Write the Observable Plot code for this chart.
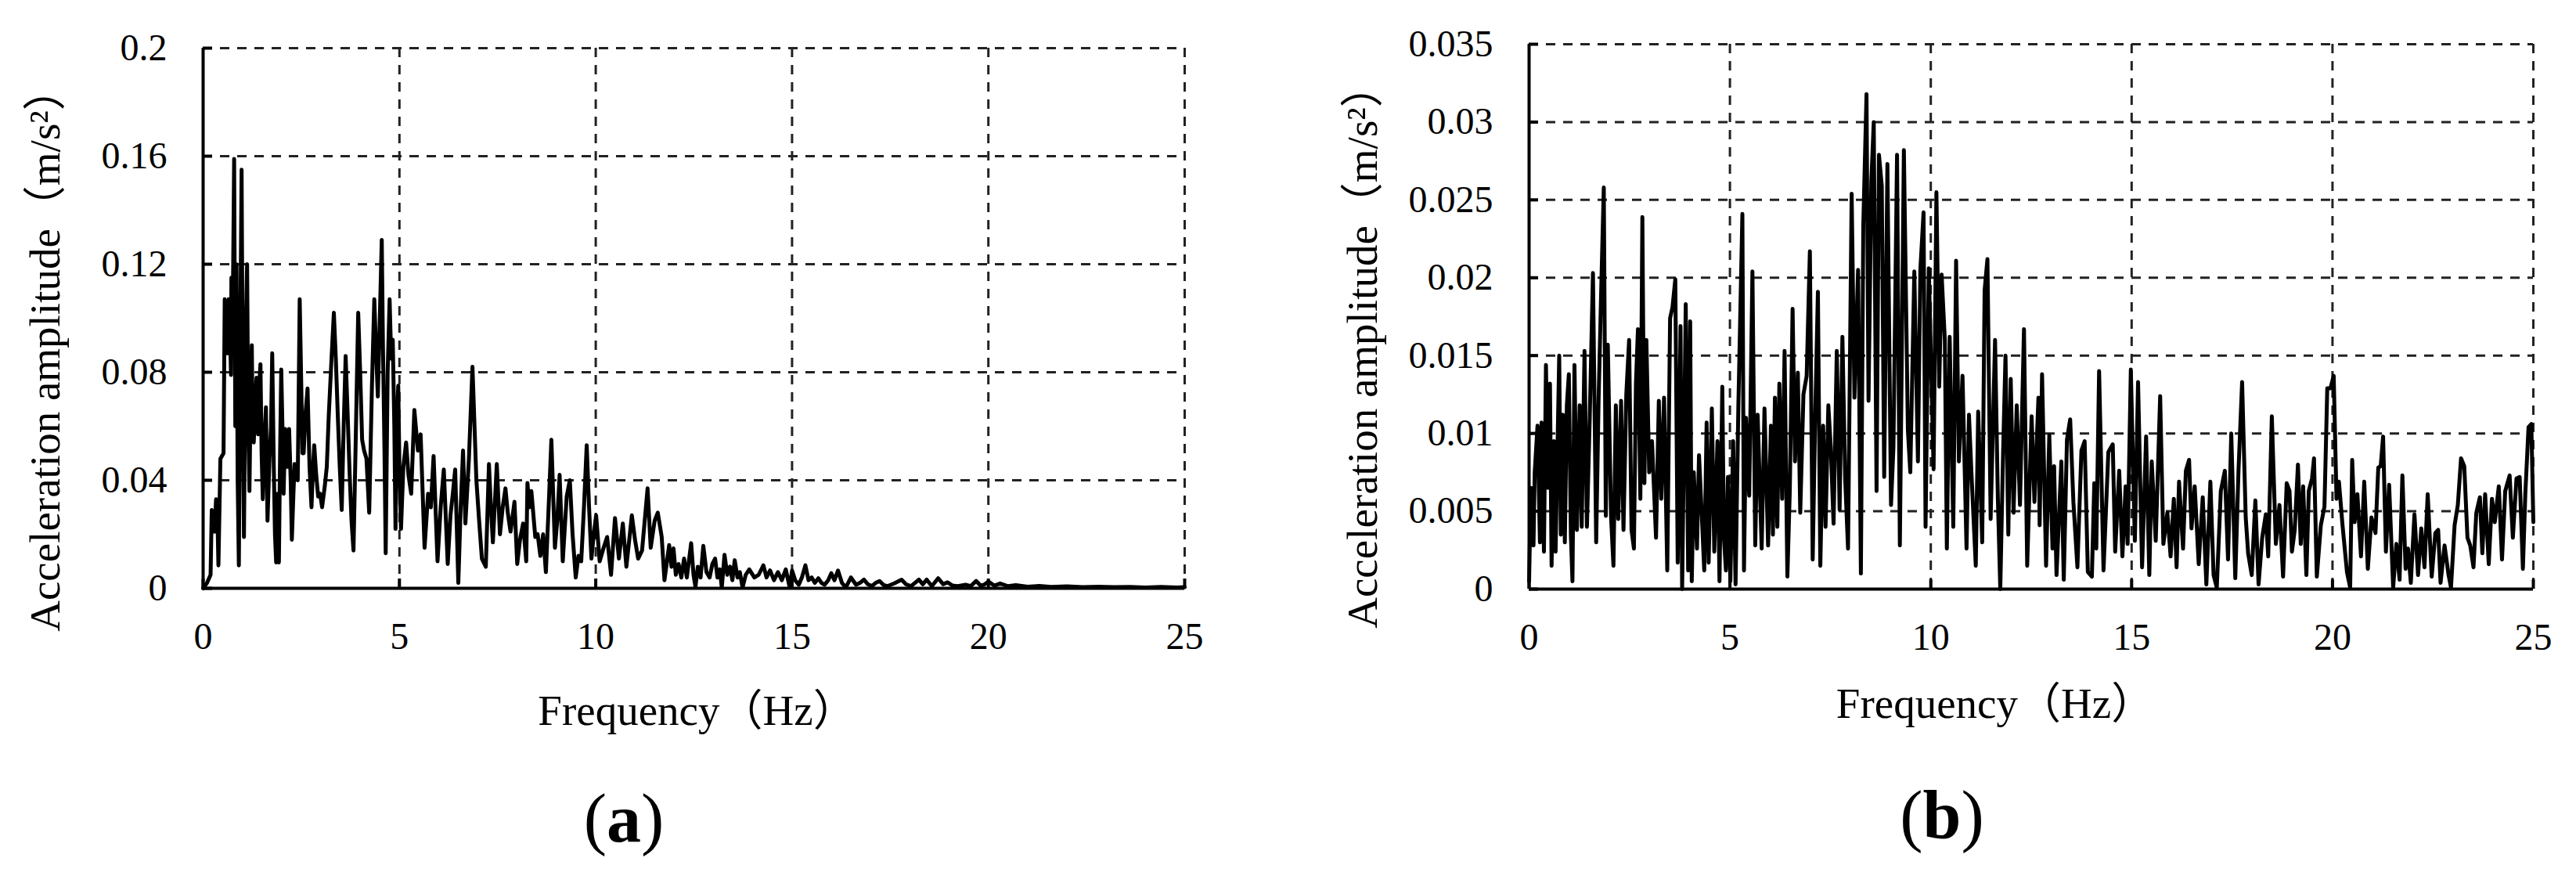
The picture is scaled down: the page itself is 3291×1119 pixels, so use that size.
<!DOCTYPE html>
<html>
<head>
<meta charset="utf-8">
<script src="https://cdn.jsdelivr.net/npm/d3@7"></script>
<script src="https://cdn.jsdelivr.net/npm/@observablehq/plot@0.6"></script>
<style>
  html, body { margin: 0; padding: 0; background: #fff; }
  #wrap { position: relative; width: 3291px; height: 1119px; background: #fff; overflow: hidden; }
  .panel { position: absolute; top: 0; }
  .cap { position: absolute; width: 300px; text-align: center; font-family: "Liberation Serif", "Times New Roman", serif; font-size: 88px; line-height: 88px; color: #000; }
  .cap b { font-weight: bold; }
</style>
</head>
<body>
<div id="wrap">
  <div id="pa" class="panel" style="left:0px"></div>
  <div id="pb" class="panel" style="left:1645px"></div>
  <div class="cap" style="left:647px; top:1002px">(<b>a</b>)</div>
  <div class="cap" style="left:2331px; top:998px">(<b>b</b>)</div>
</div>
<script>
// ---------------- data ----------------
const xTicks = [0, 5, 10, 15, 20, 25];
const yTicksA = [0, 0.04, 0.08, 0.12, 0.16, 0.2];
const yTicksB = [0, 0.005, 0.01, 0.015, 0.02, 0.025, 0.03, 0.035];
const xTitle = "Frequency\uFF08Hz\uFF09";
const yTitle = "Acceleration amplitude\uFF08m/s\u00B2\uFF09";

const freqA = [
0,0.10,0.19,0.22,0.26,0.29,0.33,0.36,0.39,0.44,0.52,0.55,0.59,0.62,0.65,0.68,0.71,0.72,0.76,0.79,
0.82,0.85,0.88,0.91,0.95,0.98,1.01,1.04,1.08,1.12,1.15,1.18,1.21,1.24,1.26,1.29,1.33,1.36,1.40,1.43,
1.46,1.49,1.52,1.56,1.60,1.64,1.69,1.73,1.76,1.80,1.83,1.86,1.90,1.93,1.96,1.99,2.02,2.05,2.09,2.14,
2.19,2.23,2.26,2.30,2.33,2.37,2.41,2.46,2.50,2.53,2.56,2.61,2.66,2.71,2.76,2.80,2.83,2.88,2.93,2.98,
3.03,3.10,3.15,3.20,3.27,3.33,3.38,3.43,3.48,3.53,3.58,3.63,3.68,3.73,3.78,3.83,3.88,3.95,4.00,4.05,
4.10,4.16,4.23,4.30,4.36,4.40,4.45,4.50,4.55,4.58,4.62,4.65,4.70,4.75,4.79,4.83,4.87,4.90,4.93,4.97,
5.00,5.04,5.10,5.17,5.23,5.30,5.38,5.47,5.54,5.64,5.73,5.80,5.87,5.97,6.05,6.13,6.23,6.30,6.36,6.42,
6.50,6.56,6.62,6.68,6.77,6.86,6.96,7.03,7.10,7.20,7.28,7.33,7.38,7.48,7.56,7.63,7.70,7.76,7.83,7.93,
8.00,8.07,8.15,8.23,8.26,8.31,8.36,8.46,8.52,8.59,8.66,8.73,8.80,8.87,8.96,9.02,9.08,9.16,9.26,9.34,
9.41,9.49,9.56,9.63,9.70,9.77,9.83,9.89,9.95,10.01,10.10,10.20,10.29,10.39,10.49,10.59,10.69,10.78,10.92,11.00,
11.08,11.18,11.32,11.40,11.50,11.58,11.68,11.75,11.87,11.93,11.98,12.04,12.11,12.18,12.25,12.32,12.43,12.49,12.54,12.60,
12.67,12.74,12.82,12.90,12.97,13.04,13.10,13.16,13.21,13.28,13.35,13.42,13.48,13.54,13.61,13.67,13.74,13.82,13.91,14.04,
14.15,14.27,14.35,14.44,14.54,14.64,14.74,14.84,14.94,15.00,15.08,15.17,15.25,15.34,15.42,15.50,15.58,15.67,15.75,15.83,
15.92,16.00,16.08,16.17,16.27,16.37,16.50,16.63,16.73,16.83,16.93,17.03,17.13,17.23,17.33,17.43,17.60,17.79,17.90,18.03,
18.13,18.23,18.33,18.43,18.56,18.72,18.85,18.96,19.09,19.22,19.42,19.55,19.69,19.80,19.89,20.00,20.15,20.30,20.50,20.70,
21.00,21.30,21.60,22.00,22.40,22.80,23.20,23.60,24.00,24.40,24.80,25.00
];
const ampA = [
0,0.002,0.005,0.029,0.027,0.021,0.033,0.030,0.0085,0.048,0.050,0.107,0.095,0.087,0.107,0.098,0.079,0.115,0.110,0.159,
0.060,0.120,0.040,0.0085,0.100,0.155,0.070,0.019,0.090,0.120,0.060,0.036,0.070,0.090,0.062,0.054,0.070,0.078,0.057,0.075,
0.083,0.050,0.033,0.055,0.067,0.025,0.048,0.060,0.087,0.045,0.020,0.0096,0.035,0.0096,0.050,0.081,0.060,0.035,0.059,0.045,
0.059,0.040,0.018,0.035,0.046,0.043,0.040,0.107,0.075,0.050,0.050,0.065,0.074,0.045,0.030,0.045,0.053,0.042,0.034,0.035,
0.030,0.038,0.045,0.064,0.085,0.102,0.085,0.064,0.045,0.029,0.060,0.086,0.065,0.043,0.025,0.014,0.050,0.102,0.080,0.055,
0.051,0.048,0.028,0.075,0.107,0.090,0.071,0.100,0.129,0.090,0.050,0.013,0.080,0.107,0.085,0.092,0.060,0.022,0.060,0.075,
0.045,0.022,0.045,0.054,0.042,0.035,0.066,0.051,0.057,0.015,0.035,0.030,0.049,0.010,0.030,0.044,0.009,0.027,0.035,0.044,
0.002,0.030,0.051,0.024,0.048,0.082,0.040,0.025,0.011,0.008,0.046,0.030,0.017,0.046,0.020,0.030,0.037,0.028,0.021,0.032,
0.009,0.018,0.024,0.010,0.039,0.030,0.036,0.019,0.020,0.012,0.020,0.006,0.030,0.055,0.015,0.025,0.042,0.010,0.034,0.040,
0.020,0.004,0.012,0.010,0.030,0.053,0.030,0.011,0.020,0.027,0.010,0.015,0.019,0.005,0.026,0.011,0.024,0.008,0.027,0.018,
0.011,0.014,0.037,0.015,0.025,0.028,0.019,0.003,0.016,0.008,0.0148,0.005,0.009,0.004,0.011,0.004,0.0167,0.005,0.0005,0.008,
0.004,0.0157,0.006,0.004,0.009,0.011,0.004,0.007,0.0003,0.0124,0.005,0.008,0.003,0.0104,0.004,0.006,0.0003,0.005,0.007,0.004,
0.005,0.0085,0.004,0.0066,0.003,0.006,0.003,0.007,0.0003,0.0066,0.003,0.0013,0.004,0.0085,0.003,0.004,0.002,0.0037,0.002,0.0013,
0.003,0.0056,0.003,0.0066,0.002,0.0003,0.004,0.0013,0.002,0.0032,0.0015,0.0008,0.002,0.0027,0.0012,0.0008,0.0018,0.0032,0.0015,0.0008,
0.002,0.0032,0.0015,0.0032,0.0008,0.0037,0.0015,0.0022,0.001,0.0008,0.0013,0.0008,0.0027,0.001,0.0013,0.0025,0.001,0.0018,0.0008,0.0012,
0.0006,0.0009,0.0005,0.0007,0.0004,0.0006,0.0004,0.0005,0.0003,0.0005,0.0003,0.0004
];

const freqB = [
0,0.045,0.11,0.14,0.21,0.27,0.31,0.37,0.42,0.47,0.52,0.56,0.62,0.66,0.75,0.79,0.84,0.89,0.94,0.99,
1.04,1.08,1.13,1.19,1.26,1.31,1.38,1.44,1.51,1.59,1.67,1.73,1.80,1.86,1.91,1.96,2.04,2.10,2.16,2.22,
2.29,2.35,2.42,2.49,2.55,2.61,2.66,2.71,2.77,2.82,2.87,2.92,2.99,3.06,3.16,3.23,3.29,3.36,3.44,3.51,
3.57,3.64,3.70,3.77,3.81,3.90,3.96,4.01,4.05,4.10,4.18,4.23,4.30,4.36,4.42,4.47,4.55,4.61,4.69,4.74,
4.81,4.85,4.90,4.95,5.01,5.08,5.14,5.21,5.31,5.35,5.40,5.48,5.56,5.63,5.69,5.79,5.86,5.95,6.02,6.07,
6.12,6.18,6.23,6.30,6.36,6.43,6.49,6.56,6.62,6.69,6.75,6.83,6.91,6.99,7.06,7.12,7.19,7.25,7.32,7.38,
7.45,7.51,7.58,7.66,7.73,7.80,7.87,7.94,8.03,8.10,8.19,8.26,8.32,8.40,8.45,8.52,8.58,8.65,8.71,8.78,
8.84,8.92,9.01,9.07,9.16,9.23,9.33,9.43,9.49,9.59,9.68,9.74,9.82,9.87,9.95,10.07,10.14,10.21,10.27,10.35,
10.40,10.47,10.56,10.63,10.70,10.79,10.89,10.95,11.02,11.12,11.18,11.28,11.34,11.41,11.49,11.60,11.67,11.73,11.80,11.86,
11.93,11.99,12.06,12.14,12.22,12.32,12.40,12.51,12.58,12.68,12.71,12.77,12.87,12.95,13.03,13.07,13.13,13.25,13.31,13.39,
13.47,13.55,13.65,13.75,13.83,13.91,14.01,14.07,14.12,14.19,14.30,14.42,14.53,14.59,14.69,14.77,14.85,14.90,14.98,15.08,
15.16,15.26,15.36,15.44,15.50,15.60,15.71,15.79,15.89,15.97,16.05,16.12,16.18,16.28,16.35,16.43,16.49,16.57,16.67,16.77,
16.86,16.96,17.04,17.12,17.22,17.32,17.40,17.48,17.58,17.66,17.75,17.84,17.90,17.99,18.08,18.16,18.25,18.34,18.40,18.49,
18.59,18.68,18.77,18.86,18.93,18.99,19.06,19.14,19.21,19.27,19.35,19.41,19.49,19.54,19.61,19.71,19.80,19.87,19.95,20.03,
20.10,20.16,20.25,20.36,20.44,20.49,20.55,20.62,20.71,20.79,20.88,20.97,21.07,21.14,21.20,21.26,21.33,21.41,21.51,21.59,
21.67,21.74,21.82,21.88,21.95,22.04,22.13,22.21,22.29,22.37,22.47,22.56,22.63,22.69,22.79,22.89,22.95,23.04,23.12,23.20,
23.28,23.36,23.43,23.51,23.58,23.67,23.73,23.80,23.89,23.97,24.04,24.14,24.22,24.30,24.41,24.49,24.58,24.66,24.74,24.80,
24.88,24.95,25.00
];
const ampB = [
0.0005,0.0065,0.0028,0.0075,0.0105,0.003,0.0107,0.0024,0.0144,0.0065,0.0132,0.0015,0.0095,0.0024,0.015,0.0035,0.0112,0.003,0.0118,0.0138,
0.0035,0.0005,0.0144,0.0038,0.0118,0.004,0.0153,0.004,0.011,0.0203,0.003,0.0121,0.0197,0.0258,0.0047,0.0157,0.0047,0.0015,0.0118,0.0045,
0.0121,0.0038,0.0125,0.016,0.0038,0.0026,0.0132,0.0167,0.0058,0.0239,0.0068,0.016,0.0075,0.0095,0.0033,0.0121,0.0058,0.0123,0.0012,0.0174,
0.0181,0.0199,0.0017,0.0169,0.0000,0.0183,0.0012,0.0172,0.0005,0.0075,0.0026,0.0086,0.0047,0.0012,0.0107,0.0017,0.0116,0.0024,0.0095,0.0005,
0.013,0.0033,0.0012,0.0072,0.0005,0.0095,0.0003,0.0118,0.0241,0.0012,0.011,0.006,0.0204,0.0028,0.0112,0.0026,0.0116,0.0028,0.0105,0.0035,
0.0123,0.004,0.0132,0.0058,0.0153,0.0008,0.0063,0.018,0.0082,0.0139,0.0049,0.0125,0.0137,0.0217,0.0019,0.0107,0.0191,0.0015,0.0105,0.004,
0.0118,0.0091,0.0042,0.0153,0.0051,0.0162,0.007,0.0026,0.0254,0.0123,0.0205,0.001,0.0234,0.0318,0.0121,0.0262,0.030,0.0063,0.0279,0.0259,
0.0072,0.0273,0.0054,0.0091,0.0279,0.0028,0.0282,0.0102,0.0075,0.0204,0.0082,0.0205,0.0242,0.004,0.0206,0.0077,0.0255,0.013,0.0202,0.016,
0.0026,0.0162,0.004,0.0211,0.0082,0.0137,0.0026,0.0112,0.007,0.0015,0.0114,0.003,0.0192,0.0212,0.0045,0.016,0.0058,0.0000,0.0088,0.015,
0.0035,0.0135,0.0049,0.0118,0.0054,0.0167,0.0015,0.0111,0.0056,0.0123,0.0041,0.0138,0.0015,0.0099,0.0026,0.0079,0.0009,0.0082,0.0006,0.0096,
0.0109,0.0056,0.0014,0.0089,0.0095,0.0011,0.0008,0.0068,0.0026,0.014,0.0012,0.0088,0.0093,0.0024,0.0076,0.0021,0.0066,0.0029,0.0141,0.0031,
0.0133,0.0014,0.0098,0.0009,0.0082,0.0031,0.0124,0.0029,0.0049,0.0021,0.0058,0.0014,0.0069,0.0026,0.0076,0.0083,0.0039,0.0066,0.0016,0.0059,
0.0003,0.0069,0.0009,0.0001,0.0063,0.0076,0.0019,0.010,0.0007,0.0076,0.0133,0.0046,0.0023,0.0009,0.0057,0.0003,0.0033,0.0048,0.0021,0.0111,
0.0029,0.0054,0.0008,0.0068,0.0063,0.0024,0.0038,0.008,0.0029,0.0066,0.0009,0.0063,0.0071,0.0084,0.0008,0.0041,0.0053,0.0129,0.0129,0.0137,
0.0058,0.0069,0.0041,0.0011,0.0001,0.0083,0.0043,0.0061,0.0021,0.0069,0.0013,0.0046,0.0036,0.0078,0.0079,0.0098,0.0024,0.0067,0.0001,0.0029,
0.0006,0.0073,0.0013,0.0026,0.0004,0.0048,0.0009,0.0039,0.0014,0.0061,0.0008,0.0036,0.0038,0.0004,0.0028,0.0009,0.0001,0.0041,0.0054,0.0084,
0.0079,0.0033,0.0028,0.0014,0.0049,0.0059,0.0023,0.0061,0.0016,0.0058,0.0043,0.0066,0.0019,0.0063,0.0073,0.0033,0.0071,0.0072,0.0013,0.0061,
0.0104,0.0106,0.0043
];

// ---------------- drawing ----------------
const FONT = "'Liberation Serif', 'Times New Roman', 'Noto Sans CJK SC', serif";

function panel({freq, amp, yTicks, yMax, width, height, mL, mR, mT, mB, yTitleDx, yTitleDy, xTitleDx, xTitleDy}) {
  const rows = freq.map((f, i) => ({f, a: amp[i]}));
  const dash = {stroke: "#222", strokeOpacity: 1, strokeWidth: 3, strokeDasharray: "12,10"};
  return Plot.plot({
    width, height,
    marginLeft: mL, marginRight: mR, marginTop: mT, marginBottom: mB,
    style: {fontFamily: FONT, background: "#fff", color: "#000", overflow: "visible"},
    x: {domain: [0, 25]},
    y: {domain: [0, yMax]},
    marks: [
      Plot.gridX(xTicks, dash),
      Plot.gridY(yTicks, dash),
      Plot.line(rows, {x: "f", y: "a", stroke: "#000", strokeWidth: 5, strokeLinejoin: "round", strokeLinecap: "round"}),
      Plot.ruleX([0], {stroke: "#000", strokeWidth: 4}),
      Plot.ruleY([0], {stroke: "#000", strokeWidth: 4}),
      // inward tick marks
      Plot.axisX({ticks: xTicks, tickSize: 12, dy: -12, strokeWidth: 4, tickFormat: () => "", label: null}),
      Plot.axisY({ticks: yTicks, tickSize: 12, dx: 12, strokeWidth: 4, tickFormat: () => "", label: null}),
      // tick labels
      Plot.axisX({ticks: xTicks, tickSize: 0, tickPadding: 43, fontSize: 48, label: null}),
      Plot.axisY({ticks: yTicks, tickSize: 0, tickPadding: 46, fontSize: 48, tickFormat: d => String(d), label: null}),
      // axis titles
      Plot.text([xTitle], {frameAnchor: "bottom", textAnchor: "middle", dx: xTitleDx, dy: xTitleDy, fontSize: 55, lineAnchor: "middle", fill: "#000"}),
      Plot.text([yTitle], {frameAnchor: "left", textAnchor: "middle", dx: yTitleDx, dy: yTitleDy, rotate: -90, fontSize: 55, lineAnchor: "middle", fill: "#000"})
    ]
  });
}

document.getElementById("pa").append(panel({
  freq: freqA, amp: ampA, yTicks: yTicksA, yMax: 0.2,
  width: 1645, height: 960, mL: 259, mR: 132, mT: 61, mB: 209,
  yTitleDx: -201, yTitleDy: 40, xTitleDx: 4, xTitleDy: 157
}));
document.getElementById("pb").append(panel({
  freq: freqB, amp: ampB, yTicks: yTicksB, yMax: 0.035,
  width: 1646, height: 960, mL: 308, mR: 55, mT: 56, mB: 208,
  yTitleDx: -212, yTitleDy: 38, xTitleDx: -46, xTitleDy: 147
}));
</script>
</body>
</html>
